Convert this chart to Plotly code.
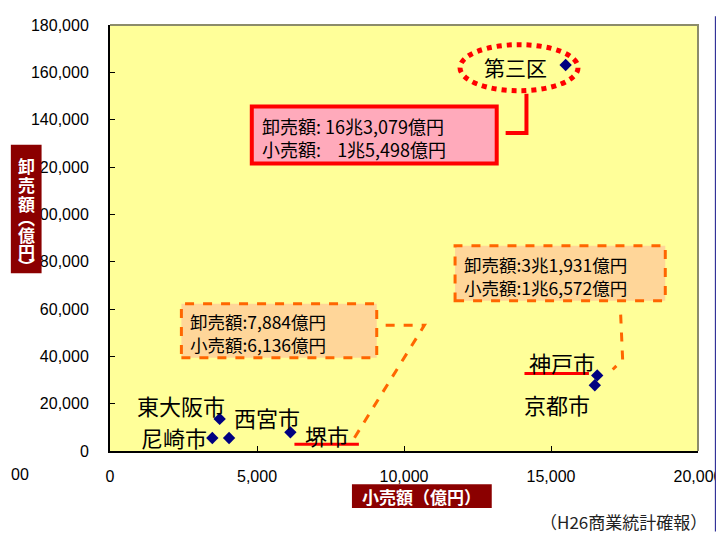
import plotly.graph_objects as go

# ---- data ----
cities = ["第三区", "神戸市", "京都市", "堺市", "西宮市", "尼崎市", "東大阪市"]
retail = [15498, 16572, 16490, 6136, 4050, 3480, 3730]          # 小売額（億円）
wholesale = [163079, 31931, 27800, 7884, 5500, 5500, 13560]    # 卸売額（億円）
x_ticks = [0, 5000, 10000, 15000, 20000]
y_ticks = list(range(0, 180001, 20000))

# geometry: all positions below are in screen pixels of the 724x533 view;
# the page body shifts the figure by 8px, which is compensated here
PW, PH = 724, 533
OFF = 8
L, R, T, B = 110, 703, 17, 451   # plot area in screen pixels


def px(x):
    return (x - L) / (R - L)


def py(y):
    return (B - y) / (B - T)


JP = "Noto Sans CJK JP"
NUM = "Liberation Sans, Arial, sans-serif"

fig = go.Figure()
fig.add_trace(go.Scatter(
    x=retail, y=wholesale, mode="markers",
    marker=dict(symbol="diamond", size=9.5, color="#000080"),
    text=cities, hoverinfo="text", showlegend=False,
))

shapes = []
annotations = []


def rect(x0, y0, x1, y1, fill=None, color=None, width=0, dash="solid"):
    shapes.append(dict(type="rect", xref="paper", yref="paper",
                       x0=px(x0), x1=px(x1), y0=py(y1), y1=py(y0),
                       fillcolor=fill if fill else "rgba(0,0,0,0)",
                       line=dict(color=color if color else "rgba(0,0,0,0)", width=width, dash=dash)))


def path(pts, color, width, dash="solid"):
    d = "M" + " L".join(f"{px(a):.5f},{py(b):.5f}" for a, b in pts)
    shapes.append(dict(type="path", xref="paper", yref="paper", path=d,
                       line=dict(color=color, width=width, dash=dash)))


def text(x, y, s, size, color="black", family=JP, xanchor="center", bold=False):
    if bold:
        s = f"<b>{s}</b>"
    annotations.append(dict(xref="paper", yref="paper", x=px(x), y=py(y), text=s,
                            showarrow=False, xanchor=xanchor, yanchor="middle", align="left",
                            font=dict(size=size, color=color, family=family), borderpad=0))


# plot frame (top / right in gray)
path([(L, T), (R, T), (R, B)], "#8c8c6a", 2)

# 第三区 ellipse + callout
shapes.append(dict(type="circle", xref="paper", yref="paper",
                   x0=px(463), x1=px(582), y0=py(84), y1=py(37),
                   line=dict(color="#ff0000", width=5, dash="dot")))
path([(530, 87), (530, 127), (509, 127)], "#ff0000", 4)
rect(253, 100, 500, 158, fill="#ffaabb", color="#ff0000", width=4)
text(262, 131.5, "卸売額: 16兆3,079億円<br>小売額:\u00a0\u00a0\u00a0\u00a01兆5,498億円", 18, xanchor="left")
text(519, 60, "第三区", 21)

# 神戸市 callout
rect(458, 242, 670, 298, fill="#ffd699", color="#ff6600", width=3, dash="dash")
text(466, 272.5, "卸売額:3兆1,931億円<br>小売額:1兆6,572億円", 17.5, xanchor="left")
path([(625, 312), (627, 358), (617, 368)], "#ff6600", 3, dash="dash")
path([(528, 372), (593, 372)], "#ff0000", 3)
text(566, 360, "神戸市", 22)
text(561, 403, "京都市", 22)

# 堺市 callout
rect(182, 301, 379, 356, fill="#ffd699", color="#ff6600", width=3, dash="dash")
text(190, 331, "卸売額:7,884億円<br>小売額:6,136億円", 17.5, xanchor="left")
path([(388, 323), (427, 323), (355, 440)], "#ff6600", 3, dash="dash")
path([(296, 444), (361, 444)], "#ff0000", 3)
text(329, 435, "堺市", 22)

# other city labels
text(182, 404, "東大阪市", 22)
text(174.5, 437, "尼崎市", 22)
text(268, 416, "西宮市", 22)

# y-axis title (vertical box)
rect(10, 139, 41, 270, fill="#8b0000")
for ch, yy in [("卸", 160), ("売", 180), ("額", 199), ("︵", 213), ("億", 230), ("円", 248), ("︶", 262)]:
    text(25.5, yy, ch, 17, color="white", bold=True)

# x-axis title
rect(354, 485, 495, 509, fill="#8b0000")
text(424.5, 497.5, "小売額（億円）", 17, color="white", bold=True)

# footnote and clipped label
text(628, 523, "（H26商業統計確報）", 17, color="#222222")
text(9, 475, "00", 16, family=NUM, xanchor="left")

# right blue rule
shapes.append(dict(type="line", xref="paper", yref="paper",
                   x0=px(721.5), x1=px(721.5), y0=py(OFF), y1=py(PH),
                   line=dict(color="#333399", width=3)))

fig.update_layout(
    width=PW, height=PH,
    margin=dict(l=L - OFF, r=PW - (R - OFF), t=T - OFF, b=PH - (B - OFF), pad=0),
    paper_bgcolor="white", plot_bgcolor="#ffff99",
    shapes=shapes, annotations=annotations,
    xaxis=dict(range=[0, 20000], tickvals=x_ticks, tickformat=",", showgrid=False, zeroline=False,
               showline=True, linecolor="black", linewidth=2, ticks="inside", ticklen=5,
               tickcolor="black", tickfont=dict(size=16, family=NUM, color="black"),
               ticklabelstandoff=10, ticklabeloverflow="allow"),
    yaxis=dict(range=[0, 180000], tickvals=y_ticks, tickformat=",", showgrid=False, zeroline=False,
               showline=True, linecolor="black", linewidth=2, ticks="inside", ticklen=5,
               tickcolor="black", tickfont=dict(size=16, family=NUM, color="black"),
               ticklabelstandoff=16, ticklabeloverflow="allow"),
    font=dict(family=JP),
)

fig.write_html("out.html")
